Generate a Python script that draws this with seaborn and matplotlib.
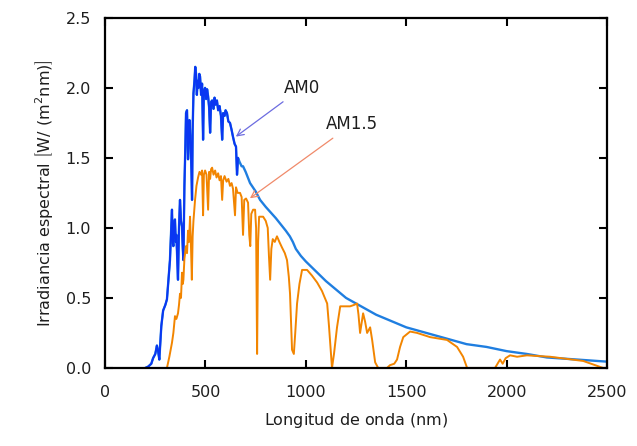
import numpy as np
import pandas as pd
import matplotlib
matplotlib.use("Agg")
import matplotlib.pyplot as plt
import seaborn as sns

# AM0 spectrum: wavelength nm, irradiance W/(m2 nm)
am0_nm = [200, 215, 230, 239, 250, 258, 264, 270, 280, 289, 300, 308, 315, 323, 328,
          333, 337, 340, 345, 348, 352, 355, 360, 363, 368, 373, 378, 383, 387, 390,
          395, 400, 403, 408, 413, 417, 420, 426, 430, 433, 436, 440, 445, 449, 453,
          457, 461, 465, 469, 473, 478, 483, 488, 492, 498, 503, 508, 513, 518, 523,
          528, 533, 540, 545, 550, 557, 563, 570, 577, 583, 588, 595, 600, 607, 614,
          622, 630, 637, 645, 652, 657, 662, 670, 680, 687, 700, 722, 750, 772, 800,
          850, 900, 920, 935, 950, 975, 1000, 1050, 1100, 1150, 1200, 1250, 1300, 1350,
          1400, 1450, 1500, 1600, 1700, 1800, 1900, 2000, 2100, 2200, 2300, 2400, 2500]
am0_val = [0.0, 0.01, 0.03, 0.07, 0.1, 0.16, 0.12, 0.06, 0.3, 0.41, 0.45, 0.49, 0.62, 0.77, 0.95,
           1.13, 0.9, 0.87, 1.05, 1.06, 0.9, 0.95, 0.75, 0.63, 1.0, 1.2, 1.05, 1.01, 0.85, 0.77,
           1.3, 1.6, 1.82, 1.84, 1.49, 1.65, 1.77, 1.6, 1.41, 1.2, 1.7, 1.96, 2.05, 2.15, 2.1,
           1.95, 2.05, 2.0, 2.1, 2.08, 1.95, 2.03, 1.63, 1.98, 2.0, 1.92, 1.99, 1.94, 1.86, 1.68,
           1.9, 1.91, 1.85, 1.93, 1.88, 1.91, 1.84, 1.87, 1.8, 1.63, 1.82, 1.8, 1.84, 1.82, 1.76,
           1.75, 1.7, 1.65, 1.6, 1.58, 1.38, 1.5, 1.47, 1.44, 1.44, 1.4, 1.32, 1.26, 1.2, 1.15,
           1.07, 0.98, 0.94, 0.9, 0.85, 0.8, 0.76, 0.69, 0.62, 0.56, 0.5, 0.46, 0.42, 0.38,
           0.35, 0.32, 0.29, 0.25, 0.21, 0.17, 0.15, 0.12, 0.1, 0.075, 0.065, 0.055, 0.045]

# AM1.5 spectrum
am15_nm = [300, 308, 320, 333, 340, 348, 355, 363, 368, 373, 378, 383, 387, 390, 395,
           403, 408, 413, 418, 423, 428, 432, 436, 440, 448, 455, 463, 470, 478, 483,
           488, 492, 498, 505, 513, 518, 523, 528, 533, 540, 548, 555, 563, 570, 577,
           583, 588, 595, 605, 614, 622, 630, 637, 647, 652, 660, 672, 680, 687, 693,
           702, 712, 718, 723, 728, 737, 747, 752, 757, 762, 767, 772, 787, 800, 810,
           816, 822, 828, 835, 845, 856, 868, 881, 895, 906, 915, 921, 931, 940, 947,
           956, 968, 981, 1006, 1030, 1056, 1080, 1106, 1115, 1121, 1130, 1140, 1155,
           1171, 1200, 1220, 1240, 1255, 1262, 1270, 1285, 1295, 1305, 1320, 1330, 1345,
           1360, 1404, 1419, 1440, 1454, 1469, 1485, 1519, 1554, 1619, 1703, 1753, 1783,
           1803, 1942, 1967, 1980, 1995, 2017, 2052, 2101, 2216, 2381, 2480, 2500]
am15_val = [0.0, 0.0, 0.08, 0.18, 0.25, 0.37, 0.35, 0.39, 0.45, 0.53, 0.5, 0.68, 0.6, 0.63, 0.78,
            0.87, 0.82, 0.98, 0.9, 1.08, 0.85, 0.63, 0.94, 1.05, 1.2, 1.3, 1.36, 1.4, 1.38, 1.41,
            1.09, 1.38, 1.41, 1.38, 1.13, 1.4, 1.35, 1.42, 1.43, 1.38, 1.41, 1.36, 1.39, 1.34, 1.37,
            1.2, 1.34, 1.37, 1.33, 1.35, 1.3, 1.32, 1.28, 1.09, 1.29, 1.25, 1.25, 1.22, 0.95, 1.2,
            1.21, 1.18, 0.95, 0.87, 1.1, 1.13, 1.13, 1.0, 0.1, 0.9, 1.08, 1.08, 1.08, 1.05, 1.0,
            0.8, 0.63, 0.85, 0.92, 0.9, 0.94, 0.9, 0.86, 0.82, 0.77, 0.65, 0.53, 0.13, 0.1, 0.25,
            0.46, 0.6, 0.7, 0.7, 0.66, 0.61, 0.55, 0.46, 0.3, 0.18, 0.0, 0.1, 0.29,
            0.44, 0.44, 0.44, 0.45, 0.46, 0.38, 0.25, 0.39, 0.33, 0.25, 0.29, 0.2, 0.04,
            0.0, 0.0, 0.02, 0.03, 0.06, 0.15, 0.22, 0.26, 0.25, 0.22, 0.2, 0.15, 0.08,
            0.0, 0.0, 0.06, 0.03, 0.07, 0.09, 0.08, 0.09, 0.08, 0.05, 0.0, 0.0]

am0 = pd.DataFrame({"nm": am0_nm, "val": am0_val})
am15 = pd.DataFrame({"nm": am15_nm, "val": am15_val})

sns.set_style("ticks")
plt.rcParams["font.family"] = ["DejaVu Sans"]
plt.rcParams["mathtext.fontset"] = "dejavusans"
txt = "#1e1e1e"
plt.rcParams.update({"text.color": txt, "axes.labelcolor": txt,
                     "xtick.color": txt, "ytick.color": txt})

fig = plt.figure(figsize=(6.37, 4.46), dpi=100)
ax = fig.add_axes([0.165, 0.175, 0.788, 0.785])

sns.lineplot(data=am0, x="nm", y="val", ax=ax, color="#1f7ee0", lw=1.7,
             estimator=None, sort=False)
sns.lineplot(data=am0[am0["nm"] <= 662], x="nm", y="val", ax=ax, color="#0a36f2",
             lw=1.4, estimator=None, sort=False)
sns.lineplot(data=am15, x="nm", y="val", ax=ax, color="#f28500", lw=1.4,
             estimator=None, sort=False)

ax.annotate("AM0", xy=(640, 1.64), xytext=(890, 2.0), fontsize=12, va="center",
            arrowprops=dict(arrowstyle="->", color="#6c6ce0", lw=0.9))
ax.annotate("AM1.5", xy=(710, 1.2), xytext=(1100, 1.74), fontsize=12, va="center",
            arrowprops=dict(arrowstyle="->", color="#f08a6a", lw=0.9))

ax.set_xlim(0, 2500)
ax.set_ylim(0, 2.5)
ax.set_xticks([0, 500, 1000, 1500, 2000, 2500])
ax.set_yticks([0.0, 0.5, 1.0, 1.5, 2.0, 2.5])
ax.set_yticklabels(["0.0", "0.5", "1.0", "1.5", "2.0", "2.5"])
ax.tick_params(axis="both", direction="in", top=True, right=True, length=6,
               width=1.5, labelsize=11.5, color="black")
ax.tick_params(axis="x", pad=12)
ax.tick_params(axis="y", pad=10)
for s in ax.spines.values():
    s.set_linewidth(1.6)
    s.set_color("black")

ax.set_xlabel(r"Longitud de onda $\left(\mathrm{nm}\right)$", fontsize=11.5, labelpad=8)
ax.set_ylabel(r"Irradiancia espectral $\left[\mathrm{W}/\ \left(\mathrm{m}^2\mathrm{nm}\right)\right]$",
              fontsize=11.5, labelpad=8)

fig.savefig("out.png", dpi=100)
